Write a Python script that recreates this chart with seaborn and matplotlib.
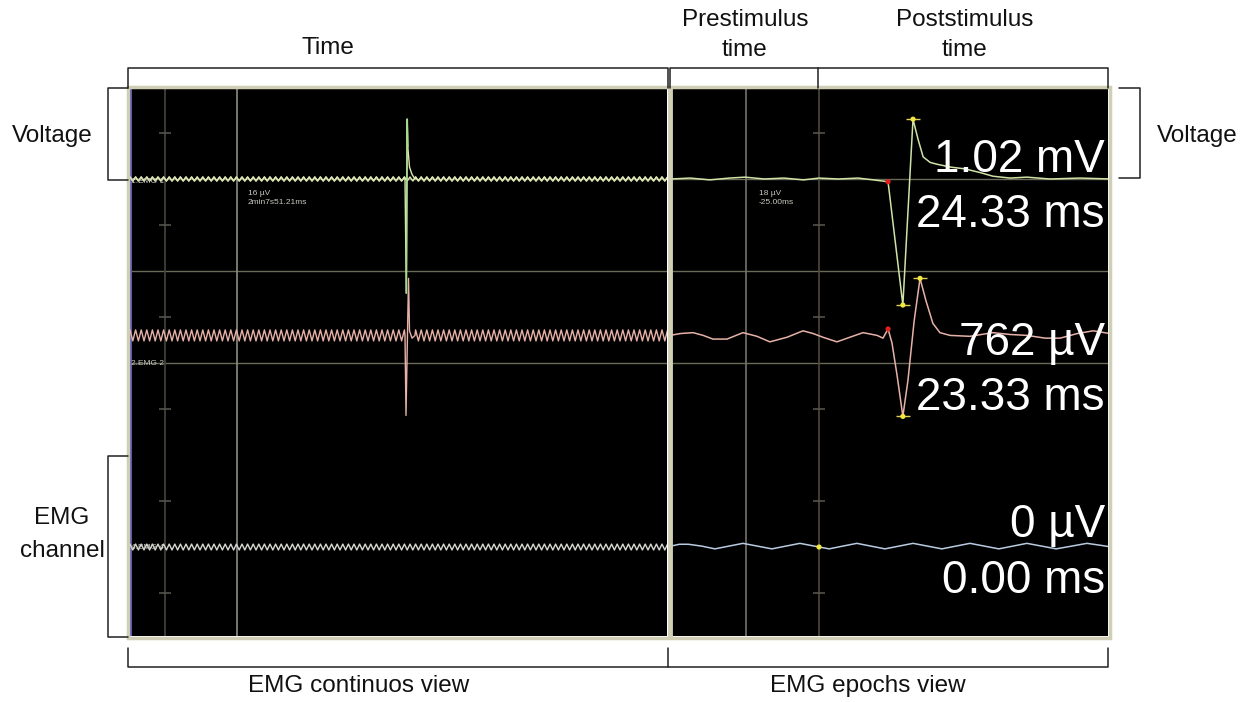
import numpy as np
import pandas as pd
import seaborn as sns
import matplotlib.pyplot as plt
from matplotlib.lines import Line2D
from matplotlib.patches import Rectangle

# EMG continuous view / epochs view screenshot with annotation brackets

W, H = 1249, 702

# continuous view: x in screen samples, amplitude in grid divisions
cont_xlim = (0, 537)
ripple_step = 2.8
ch1_ripple = [0.022, -0.022]
ch2_ripple = [0.06, -0.06]
ch3_ripple = [0.032, -0.032]
ch1_spike_x = [275.0, 276.3, 277.2, 277.8, 279.5, 282.0, 285.0]
ch1_spike_y = [0.0, -1.24, 0.65, 0.35, 0.13, 0.05, 0.0]
ch2_spike_x = [275.0, 276.0, 278.5, 279.5, 282.0, 285.0]
ch2_spike_y = [0.0, -0.87, 0.62, 0.05, -0.03, 0.0]

# epochs view: time in ms, amplitude in grid divisions
epoch_xlim = (-37.7, 74.1)
ep1_t = [-38, -33, -28, -23, -19, -14, -9, -4, 0, 5, 10, 14, 17.7, 21.5, 24.1,
         25.4, 26.7, 28.5, 30.3, 33.6, 37.4, 41.3, 44.6, 49, 53.3, 59.2, 66.9, 75]
ep1_v = [0, 0.01, -0.01, 0.01, 0.02, 0, 0.01, -0.01, 0.01, 0, 0.01, -0.01, -0.03,
         -1.37, 0.65, 0.43, 0.24, 0.18, 0.16, 0.13, 0.11, 0.07, 0.03, 0.01, 0.02,
         0, 0.01, 0]
ep2_t = [-38.2, -35.6, -32.3, -29.7, -27.2, -23.6, -19.5, -15.9, -12.6, -8.2,
         -4.1, -1.5, 1.0, 4.6, 7.9, 11.3, 14.9, 16.4, 17.7, 18.7, 20.0, 21.5,
         22.8, 24.4, 25.9, 27.4, 29.2, 31.0, 33.6, 38.7, 44.6, 49, 53.3, 58,
         61.8, 66.2, 70.3, 74.6]
ep2_v = [0, 0.02, 0.03, 0, -0.04, -0.04, 0.03, -0.01, -0.07, -0.02, 0.05, 0.02,
         -0.02, -0.07, -0.02, 0.03, 0, -0.03, 0.07, -0.08, -0.43, -0.88, -0.49,
         0.16, 0.62, 0.38, 0.13, 0.03, 0, -0.01, 0.03, 0.01, 0, -0.03, -0.03,
         0.02, 0.05, 0.02]
ep3_t = [-38, -35.8, -33.5, -30.1, -26.7, -23.1, -19.5, -15.8, -12.1, -8.5, -4.9,
         -1.2, 2.6, 6.1, 9.7, 13.3, 16.9, 20.5, 24.1, 27.8, 31.5, 35.1, 38.7,
         42.4, 46.1, 49.7, 53.3, 57.1, 60.8, 64.8, 68.7, 72, 75]
ep3_v = [0.01, 0.03, 0.03, 0.01, -0.02, 0.01, 0.04, 0.01, -0.02, 0.01, 0.04,
         0.01, -0.02, 0.01, 0.04, 0.01, -0.02, 0.01, 0.04, 0.01, -0.02, 0.01,
         0.04, 0.01, -0.02, 0.01, 0.04, 0.01, -0.02, 0.01, 0.04, 0.02, 0.0]

offsets = [4.0, 2.3, 0.0]
ch_colors = ["#dfe8b4", "#e6b2a8", "#d8d8d2"]
ep_colors = ["#cfe3a6", "#e6b2a8", "#b9cbe0"]
spike1_color = "#a9d98e"

# marker points (ms, divisions)
red_t = [17.7, 17.7]
red_v = [4.0 - 0.03, 2.3 + 0.07]
yel_t = [21.5, 24.1, 21.5, 25.9, 0.0]
yel_v = [4.0 - 1.37, 4.0 + 0.65, 2.3 - 0.88, 2.3 + 0.62, 0.0]

readouts = [("1.02 mV", 172), ("24.33 ms", 227), ("762 µV", 355),
            ("23.33 ms", 410), ("0 µV", 537), ("0.00 ms", 593)]

ylim = (-0.967, 4.978)
grid_y = [2.0, 3.0, 4.0]
tick_y = [-0.5, 0.5, 1.5, 2.5, 3.5, 4.5]

sns.set_style("white")
plt.rcParams["font.family"] = ["Liberation Sans", "DejaVu Sans"]

fig = plt.figure(figsize=(W / 100, H / 100), dpi=100)


def fx(x):
    return x / W


def fy(y):
    return 1 - y / H


ax1 = fig.add_axes([fx(130), fy(636), (667 - 130) / W, (636 - 89) / H])
ax2 = fig.add_axes([fx(672), fy(636), (1108 - 672) / W, (636 - 89) / H])
for ax in (ax1, ax2):
    ax.set_facecolor("black")
    ax.set_ylim(*ylim)
    for s in ax.spines.values():
        s.set_visible(False)
    ax.set_xticks([])
    ax.set_yticks([])
    for gy in grid_y:
        ax.axhline(gy, color="#6b6a58", lw=1, zorder=1)
ax1.set_xlim(*cont_xlim)
ax2.set_xlim(*epoch_xlim)

# vertical grid lines + half-division ticks
ax1.axvline(35, color="#45443c", lw=1.2, zorder=1)
ax1.axvline(107, color="#8c8c84", lw=1.2, zorder=1)
ax2.axvline(-18.7, color="#74746c", lw=1.2, zorder=1)
ax2.axvline(0, color="#4e4a3a", lw=1.2, zorder=1)
ax1.hlines(tick_y, 29, 41, color="#55544a", lw=1.2, zorder=1)
ax2.hlines(tick_y, -1.5, 1.5, color="#55544a", lw=1.2, zorder=1)
ax1.axvline(0.6, color="#5a5aa8", lw=1.5, zorder=1)


def continuous(offset, ripple, sx=None, sy=None):
    xs = np.arange(cont_xlim[0], cont_xlim[1] + ripple_step, ripple_step)
    if sx is None:
        return xs, np.resize(ripple, len(xs)) + offset
    pre = xs[xs < sx[0]]
    post = xs[xs > sx[-1]]
    x = np.concatenate([pre, sx, post])
    y = np.concatenate([np.resize(ripple, len(pre)), sy,
                        np.resize(ripple, len(post))]) + offset
    return x, y


traces = [continuous(offsets[0], ch1_ripple),
          continuous(offsets[1], ch2_ripple, ch2_spike_x, ch2_spike_y),
          continuous(offsets[2], ch3_ripple)]
for (x, y), c in zip(traces, ch_colors):
    sns.lineplot(data=pd.DataFrame({"t": x, "v": y}), x="t", y="v", ax=ax1,
                 color=c, lw=1, sort=False, estimator=None, zorder=3)
# EMG 1 stimulus spike drawn over the pink trace
x1, y1 = continuous(offsets[0], ch1_ripple, ch1_spike_x, ch1_spike_y)
sns.lineplot(data=pd.DataFrame({"t": x1, "v": y1}), x="t", y="v", ax=ax1,
             color=ch_colors[0], lw=1, sort=False, estimator=None, zorder=3)
ax1.plot(ch1_spike_x[1:4], np.array(ch1_spike_y[1:4]) + offsets[0],
         color=spike1_color, lw=1.2, zorder=4)
ax1.set_xlabel("")
ax1.set_ylabel("")

for t, v, off, c in [(ep1_t, ep1_v, offsets[0], ep_colors[0]),
                     (ep2_t, ep2_v, offsets[1], ep_colors[1]),
                     (ep3_t, ep3_v, offsets[2], ep_colors[2])]:
    df = pd.DataFrame({"t": t, "v": np.array(v) + off})
    sns.lineplot(data=df, x="t", y="v", ax=ax2, color=c, lw=1.1,
                 sort=False, estimator=None, zorder=3)
ax2.set_xlabel("")
ax2.set_ylabel("")
ax2.plot(yel_t[:4], yel_v[:4], ls="none", marker="_", ms=10, mew=1,
         color="#e0d060", zorder=4)
sns.scatterplot(x=yel_t, y=yel_v, ax=ax2, color="#f2e640", s=14,
                edgecolor="none", zorder=5)
sns.scatterplot(x=red_t, y=red_v, ax=ax2, color="#e02020", s=14,
                edgecolor="none", zorder=5)

# small screen labels
small = dict(color="#c8c8c0", fontsize=6)
ax1.text(1, 3.97, "1.EMG 1", va="center", **small)
ax1.text(1, 2.0, "2.EMG 2", va="center", **small)
ax1.text(1, 0.0, "4.EMG 4", va="center", **small)
ax1.text(118, 3.88, "16 µV\n2min7s51.21ms", va="top", linespacing=1.3, **small)
ax2.text(-15.5, 3.88, "18 µV\n-25.00ms", va="top", linespacing=1.3, **small)

for txt, base in readouts:
    fig.text(fx(1105), fy(base), txt, ha="right", va="baseline",
             fontsize=33, color="white")

# panel frame and separator
fig.add_artist(Rectangle((fx(128), fy(638)), (1110 - 128) / W, (638 - 87) / H,
                         transform=fig.transFigure, fill=False,
                         ec="#d0ceb4", lw=2.5))
fig.add_artist(Line2D([fx(669.5)] * 2, [fy(88), fy(637)],
                      transform=fig.transFigure, color="#d0ceb4", lw=3.5))


def bracket(xs, ys):
    fig.add_artist(Line2D([fx(v) for v in xs], [fy(v) for v in ys],
                          transform=fig.transFigure, color="#202020", lw=1.1))


bracket([128, 128, 668, 668], [88, 68, 68, 88])
bracket([670, 670, 818, 818], [88, 68, 68, 88])
bracket([818, 1108, 1108], [68, 68, 88])
bracket([128, 108, 108, 128], [88, 88, 180, 180])
bracket([1119, 1140, 1140, 1119], [88, 88, 178, 178])
bracket([128, 108, 108, 128], [456, 456, 637, 637])
bracket([128, 128, 1108, 1108], [648, 667, 667, 648])
bracket([668, 668], [648, 667])

lab = dict(fontsize=17.5, color="#111111", ha="center", va="center")
fig.text(fx(328), fy(48), "Time", **lab)
fig.text(fx(745), fy(20), "Prestimulus", **lab)
fig.text(fx(745), fy(50), "time", **lab)
fig.text(fx(965), fy(20), "Poststimulus", **lab)
fig.text(fx(965), fy(50), "time", **lab)
fig.text(fx(52), fy(136), "Voltage", **lab)
fig.text(fx(1197), fy(136), "Voltage", **lab)
fig.text(fx(62), fy(518), "EMG", **lab)
fig.text(fx(62), fy(551), "channel", **lab)
fig.text(fx(359), fy(686), "EMG continuos view", **lab)
fig.text(fx(868), fy(686), "EMG epochs view", **lab)

fig.savefig("out.png", dpi=100, facecolor="white")
